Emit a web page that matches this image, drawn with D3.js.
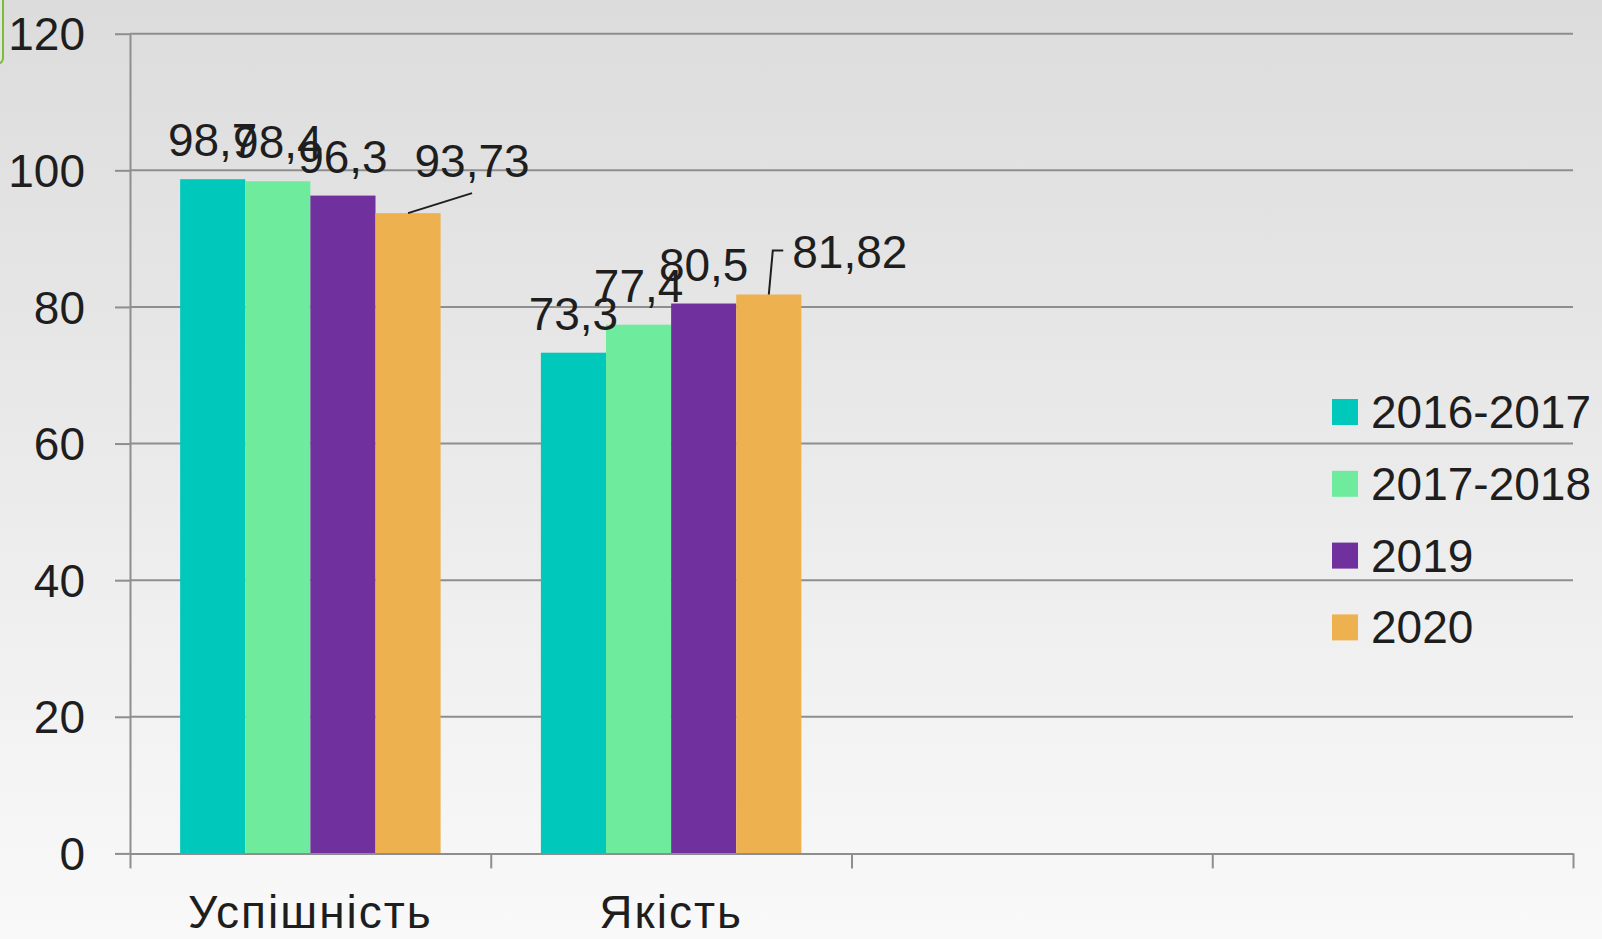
<!DOCTYPE html>
<html>
<head>
<meta charset="utf-8">
<script src="https://cdn.jsdelivr.net/npm/d3@7"></script>
<style>
    html, body { margin: 0; padding: 0; overflow: hidden; }
    svg { display: block; }
    text { font-family: "Liberation Sans", Arial, sans-serif; fill: #1e1e1e; }
</style>
</head>
<body>
<svg id="chart" width="1602" height="939"></svg>
<script>
// data
var categories = ["Успішність", "Якість", "", ""];
var seriesNames = ["2016-2017", "2017-2018", "2019", "2020"];
var seriesColors = ["#00c8bb", "#6feb9e", "#70309e", "#eeb14f"];
var values = [
    [98.7, 73.3],   // 2016-2017
    [98.4, 77.4],   // 2017-2018
    [96.3, 80.5],   // 2019
    [93.73, 81.82]  // 2020
];
var labels = [
    ["98,7", "73,3"],
    ["98,4", "77,4"],
    ["96,3", "80,5"],
    ["93,73", "81,82"]
];
var yTicks = [0, 20, 40, 60, 80, 100, 120];

// labels that were dragged away from their bar (layout only)
var movedLabels = {
    "3-0": { dx: 64, dy: -13, leader: "straight" },
    "3-1": { dx: 81, dy: -4, leader: "elbow" }
};

var width = 1602;
var height = 939;
var plotLeft = 130;
var plotRight = 1573;
var plotTop = 33.7;
var plotBottom = 853.4;

var svg = d3.select("#chart");

var defs = svg.append("defs");
var grad = defs.append("linearGradient")
    .attr("id", "bg")
    .attr("x1", 0).attr("y1", 0)
    .attr("x2", 0).attr("y2", 1);
grad.append("stop").attr("offset", "0%").attr("stop-color", "#dcdcdc");
grad.append("stop").attr("offset", "55%").attr("stop-color", "#ececec");
grad.append("stop").attr("offset", "100%").attr("stop-color", "#f9f9f9");

svg.append("rect")
    .attr("width", width)
    .attr("height", height)
    .attr("fill", "url(#bg)");

// bit of a green frame peeking in at the top-left corner
svg.append("rect")
    .attr("x", -20)
    .attr("y", -10)
    .attr("width", 23)
    .attr("height", 74)
    .attr("rx", 6)
    .attr("fill", "#dfe6df")
    .attr("stroke", "#7dbb3c")
    .attr("stroke-width", 2);

var y = d3.scaleLinear()
    .domain([0, 120])
    .range([plotBottom, plotTop]);

var x0 = d3.scaleBand()
    .domain(d3.range(categories.length))
    .range([plotLeft, plotRight])
    .paddingInner(0)
    .paddingOuter(0);

var x1 = d3.scaleBand()
    .domain(d3.range(seriesNames.length))
    .range([0, x0.bandwidth()])
    .paddingInner(0)
    .paddingOuter(0.77);

var xEdge = d3.scaleLinear()
    .domain([0, categories.length])
    .range([plotLeft, plotRight]);

// grid lines
svg.selectAll("line.grid")
    .data(yTicks.filter(function(d) { return d > 0; }))
    .enter()
    .append("line")
    .attr("class", "grid")
    .attr("x1", plotLeft)
    .attr("x2", plotRight)
    .attr("y1", function(d) { return y(d); })
    .attr("y2", function(d) { return y(d); })
    .attr("stroke", "#8e8e8e")
    .attr("stroke-width", 2);

// y axis
var yAxis = svg.append("g")
    .attr("transform", "translate(" + plotLeft + ",0)")
    .call(d3.axisLeft(y)
        .tickValues(yTicks)
        .tickSizeInner(15)
        .tickSizeOuter(0)
        .tickPadding(30)
        .tickFormat(d3.format("d")));
yAxis.select(".domain").attr("stroke", "#8e8e8e").attr("stroke-width", 2);
yAxis.selectAll(".tick line").attr("stroke", "#8e8e8e").attr("stroke-width", 2);
yAxis.selectAll(".tick text")
    .attr("font-size", 46)
    .attr("font-family", "Liberation Sans, Arial, sans-serif")
    .attr("fill", "#1e1e1e")
    .attr("dy", "0.35em");

// bars
var groups = svg.selectAll("g.series")
    .data(values)
    .enter()
    .append("g")
    .attr("class", "series")
    .attr("fill", function(d, i) { return seriesColors[i]; });

groups.selectAll("rect")
    .data(function(d, i) {
        return d.map(function(v, c) { return { s: i, c: c, v: v }; });
    })
    .enter()
    .append("rect")
    .attr("x", function(d) { return x0(d.c) + x1(d.s); })
    .attr("y", function(d) { return y(d.v); })
    .attr("width", x1.bandwidth())
    .attr("height", function(d) { return y(0) - y(d.v); });

// x axis, ticks sit between categories
var xAxis = svg.append("g")
    .attr("transform", "translate(0," + plotBottom + ")")
    .call(d3.axisBottom(xEdge)
        .ticks(categories.length)
        .tickSizeInner(15)
        .tickSizeOuter(0)
        .tickFormat(""));
xAxis.select(".domain").attr("stroke", "#8e8e8e").attr("stroke-width", 2);
xAxis.selectAll(".tick line").attr("stroke", "#8e8e8e").attr("stroke-width", 2);

svg.selectAll("text.cat")
    .data(categories)
    .enter()
    .append("text")
    .attr("class", "cat")
    .attr("x", function(d, i) { return x0(i) + x0.bandwidth() / 2; })
    .attr("y", 928)
    .attr("text-anchor", "middle")
    .attr("font-size", 46)
    .attr("letter-spacing", 2)
    .text(function(d) { return d; });

// data labels
var labelData = [];
values.forEach(function(row, s) {
    row.forEach(function(v, c) {
        labelData.push({ s: s, c: c, v: v, text: labels[s][c] });
    });
});

var labelNodes = svg.selectAll("text.val")
    .data(labelData)
    .enter()
    .append("text")
    .attr("class", "val")
    .attr("font-size", 46)
    .attr("text-anchor", "middle")
    .attr("x", function(d) {
        var m = movedLabels[d.s + "-" + d.c];
        return x0(d.c) + x1(d.s) + x1.bandwidth() / 2 + (m ? m.dx : 0);
    })
    .attr("y", function(d) {
        var m = movedLabels[d.s + "-" + d.c];
        return y(d.v) - 23 + (m ? m.dy : 0);
    })
    .text(function(d) { return d.text; });

// leader lines for the dragged labels
labelNodes.each(function(d) {
    var m = movedLabels[d.s + "-" + d.c];
    if (!m) return;
    var bx = x0(d.c) + x1(d.s) + x1.bandwidth() / 2;
    var by = y(d.v);
    var lx = +this.getAttribute("x");
    var ly = +this.getAttribute("y");
    var w = this.getComputedTextLength();
    var pts;
    if (m.leader === "straight") {
        pts = [[bx, by], [lx, ly + 16]];
    } else {
        var ex = lx - w / 2 - 9;
        var ey = ly - 17;
        pts = [[bx, by], [bx + 4, ey], [ex, ey]];
    }
    svg.append("path")
        .attr("d", d3.line()(pts))
        .attr("fill", "none")
        .attr("stroke", "#1e1e1e")
        .attr("stroke-width", 2);
});

// legend
var legend = svg.selectAll("g.legend")
    .data(seriesNames)
    .enter()
    .append("g")
    .attr("class", "legend")
    .attr("transform", function(d, i) {
        return "translate(1332," + (412 + i * 71.8) + ")";
    });

legend.append("rect")
    .attr("x", 0)
    .attr("y", -13)
    .attr("width", 26)
    .attr("height", 26)
    .attr("fill", function(d, i) { return seriesColors[i]; });

legend.append("text")
    .attr("x", 39)
    .attr("y", 16)
    .attr("font-size", 46)
    .text(function(d) { return d; });
</script>
</body>
</html>
